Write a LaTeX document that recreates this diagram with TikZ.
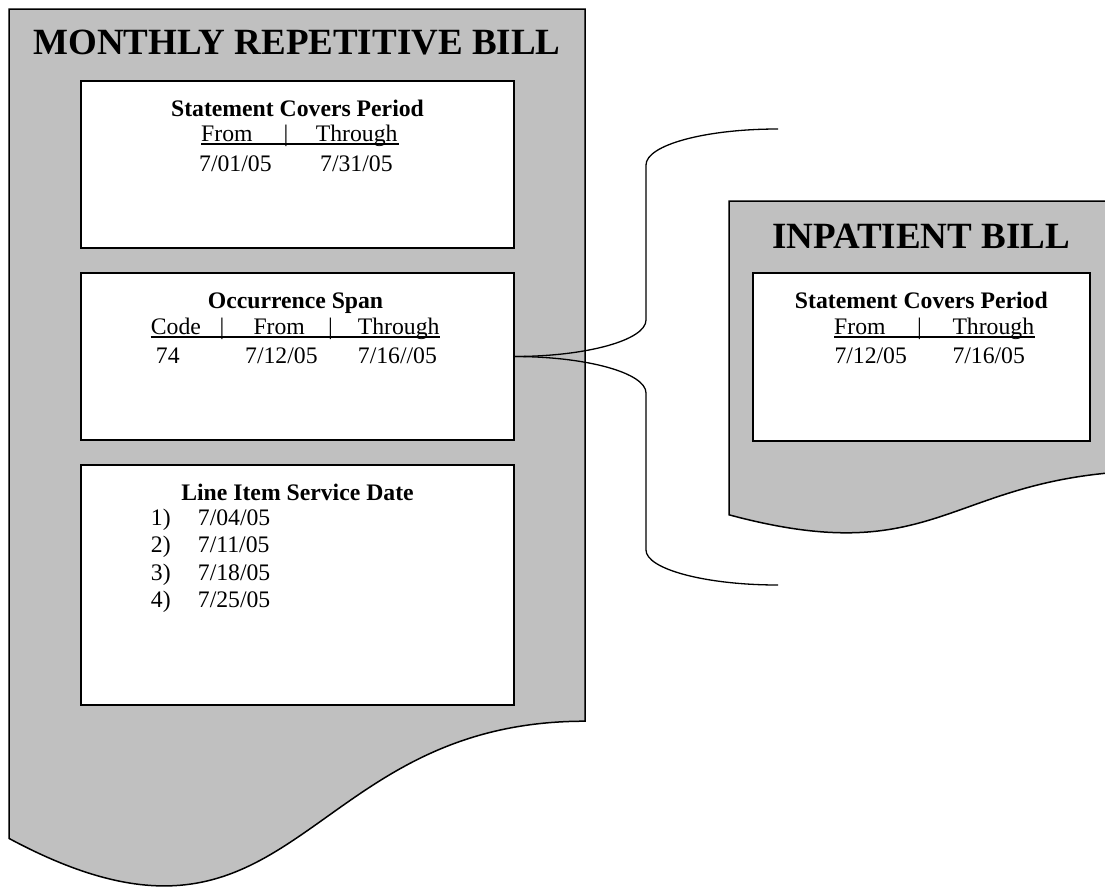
\documentclass[tikz,border=0pt]{standalone}
\usepackage{fontspec}
\setmainfont{Liberation Serif}
\definecolor{docgray}{HTML}{C0C0C0}
\tikzset{
  docshape/.style={fill=docgray, draw=black, line width=1.5pt, line join=miter},
  innerbox/.style={draw=black, fill=white, line width=1.8pt, inner sep=0pt, outer sep=0pt},
  bigtitle/.style={inner sep=0pt, anchor=base, font=\fontsize{37}{40}\selectfont\bfseries},
  boxhead/.style={inner sep=0pt, anchor=base, font=\fontsize{23.7}{27}\selectfont\bfseries},
  txt/.style={inner sep=0pt, anchor=base west, font=\fontsize{23.7}{27}\selectfont},
  bar/.style={inner sep=0pt, anchor=base, font=\fontsize{23.7}{27}\selectfont},
  ul/.style={line width=1.9pt},
  bracestyle/.style={draw=black, line width=1.3pt}
}
\begin{document}
\begin{tikzpicture}[x=1pt, y=-1pt]
\useasboundingbox (0,0) rectangle (1105,886);
\clip (0,0) rectangle (1105,886);

% Left document (monthly repetitive bill)
\draw[docshape] (9,9) -- (585,9) -- (585,721.2)
  .. controls (297,721.2) and (297,992.9) .. (9,838.4) -- cycle;
\node[bigtitle] (ltitle) at (297,54) {MONTHLY REPETITIVE BILL};

% Box 1
\node[innerbox, minimum width=433pt, minimum height=167pt] (b1) at (297.5,164.5) {};
\node[boxhead] (b1h) at (297.5,116) {Statement Covers Period};
\node[txt] (b1from) at (201,141.7) {From};
\node[bar] (b1bar) at (286,141.7) {|};
\node[txt] (b1thr) at (315.7,141.7) {Through};
\draw[ul] ([yshift=-2.7pt]b1from.base west) -- ([yshift=-2.7pt,xshift=1pt]b1thr.base east);
\node[txt] (b1d1) at (199,171) {7/01/05};
\node[txt] (b1d2) at (320,171) {7/31/05};

% Box 2
\node[innerbox, minimum width=433pt, minimum height=167pt] (b2) at (297.5,356.5) {};
\node[boxhead] (b2h) at (295.5,308) {Occurrence Span};
\node[txt] (b2code) at (150.7,334) {Code};
\node[bar] (b2bar1) at (222,334) {|};
\node[txt] (b2from) at (253.3,334) {From};
\node[bar] (b2bar2) at (330.5,334) {|};
\node[txt] (b2thr) at (357.7,334) {Through};
\draw[ul] ([yshift=-2.7pt]b2code.base west) -- ([yshift=-2.7pt]b2thr.base east);
\node[txt] (b2c) at (155.7,363) {74};
\node[txt] (b2d1) at (245,363) {7/12/05};
\node[txt] (b2d2) at (357.7,363) {7/16//05};

% Box 3
\node[innerbox, minimum width=433pt, minimum height=240pt] (b3) at (297.5,585) {};
\node[boxhead] (b3h) at (297.5,500) {Line Item Service Date};
\node[txt] (n1) at (150.7,525) {1)};
\node[txt] (d1) at (197.7,525) {7/04/05};
\node[txt] (n2) at (150.7,552.5) {2)};
\node[txt] (d2) at (197.7,552.5) {7/11/05};
\node[txt] (n3) at (150.7,580) {3)};
\node[txt] (d3) at (197.7,580) {7/18/05};
\node[txt] (n4) at (150.7,607.5) {4)};
\node[txt] (d4) at (197.7,607.5) {7/25/05};

% Right document (inpatient bill)
\draw[docshape] (729,201) -- (1164,201) -- (1164,470.5)
  .. controls (946.5,470.5) and (946.5,573.3) .. (729,514.8) -- cycle;
\node[bigtitle] (rtitle) at (921,248) {INPATIENT BILL};

\node[innerbox, minimum width=337pt, minimum height=168pt] (rb) at (921.5,357) {};
\node[boxhead] (rbh) at (921.3,308) {Statement Covers Period};
\node[txt] (rbfrom) at (834,334) {From};
\node[bar] (rbbar) at (919.5,334) {|};
\node[txt] (rbthr) at (952.3,334) {Through};
\draw[ul] ([yshift=-2.7pt]rbfrom.base west) -- ([yshift=-2.7pt,xshift=1pt]rbthr.base east);
\node[txt] (rbd1) at (834.3,363) {7/12/05};
\node[txt] (rbd2) at (952.3,363) {7/16/05};

% Brace connector
\coordinate (bt) at (778,129);
\coordinate (bb) at (778,585);
\draw[bracestyle] (b2.east) .. controls (587,356.5) and (646,340) .. (646,320)
  -- (646,165) .. controls (646,145) and (705,129) .. (bt);
\draw[bracestyle] (b2.east) .. controls (587,356.5) and (646,373) .. (646,393)
  -- (646,550) .. controls (646,569) and (705,585) .. (bb);
\end{tikzpicture}
\end{document}
